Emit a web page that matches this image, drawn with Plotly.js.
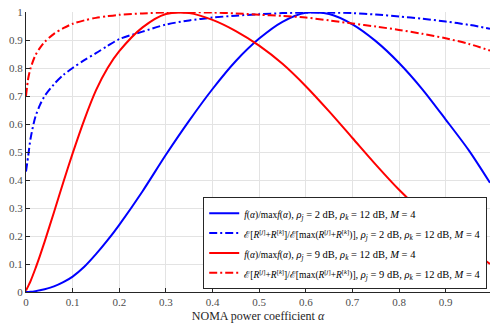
<!DOCTYPE html>
<html>
<head>
<meta charset="utf-8">
<script src="https://cdn.plot.ly/plotly-3.0.1.min.js"></script>
<style>html,body{margin:0;padding:0;background:#fff;}#chart{width:491px;height:325px;}</style>
</head>
<body>
<div id="chart"></div>
<script>
// NOMA power coefficient alpha (x values)
const alpha = [0, 0.005, 0.01, 0.02, 0.03, 0.04, 0.06, 0.08, 0.1, 0.125, 0.15, 0.175, 0.2, 0.25, 0.3, 0.35, 0.4, 0.45, 0.5, 0.55, 0.6, 0.65, 0.7, 0.75, 0.8, 0.85, 0.9, 0.95, 0.995];

// f(alpha)/max f(alpha), rho_j = 2 dB
const fRatioRho2 = [0, 0.0002, 0.0008, 0.003, 0.006, 0.01, 0.02, 0.035, 0.055, 0.09, 0.135, 0.185, 0.24, 0.36, 0.49, 0.612, 0.725, 0.825, 0.905, 0.965, 0.997, 0.993, 0.956, 0.896, 0.818, 0.724, 0.616, 0.505, 0.39];
// E[R^j+R^k]/E[max(R^j+R^k)], rho_j = 2 dB
const eRatioRho2 = [0.43, 0.49, 0.55, 0.625, 0.668, 0.70, 0.742, 0.775, 0.80, 0.828, 0.853, 0.879, 0.903, 0.93, 0.955, 0.97, 0.98, 0.987, 0.992, 0.996, 0.998, 0.998, 0.996, 0.991, 0.984, 0.976, 0.966, 0.954, 0.94];
// f(alpha)/max f(alpha), rho_j = 9 dB
const fRatioRho9 = [0.005, 0.022, 0.04, 0.083, 0.13, 0.18, 0.285, 0.392, 0.495, 0.615, 0.72, 0.80, 0.86, 0.945, 0.993, 0.996, 0.972, 0.932, 0.88, 0.815, 0.735, 0.645, 0.55, 0.455, 0.365, 0.285, 0.215, 0.155, 0.10];
// E[R^j+R^k]/E[max(R^j+R^k)], rho_j = 9 dB
const eRatioRho9 = [0.70, 0.765, 0.80, 0.845, 0.872, 0.893, 0.922, 0.942, 0.958, 0.97, 0.979, 0.985, 0.99, 0.995, 0.998, 0.999, 0.998, 0.995, 0.99, 0.986, 0.98, 0.97, 0.959, 0.948, 0.936, 0.922, 0.906, 0.886, 0.862];

const xTicks = [0, 0.1, 0.2, 0.3, 0.4, 0.5, 0.6, 0.7, 0.8, 0.9];
const yTicks = [0, 0.1, 0.2, 0.3, 0.4, 0.5, 0.6, 0.7, 0.8, 0.9, 1];

const FR = "<span style='font-size:9.5px'>";
const RS = "<span style='font-size:10.5px'>";
const rest2 = RS + ", <i>ρ</i><sub><i>j</i></sub> = 2 dB, <i>ρ</i><sub><i>k</i></sub> = 12 dB, <i>M</i> = 4</span>";
const rest9 = RS + ", <i>ρ</i><sub><i>j</i></sub> = 9 dB, <i>ρ</i><sub><i>k</i></sub> = 12 dB, <i>M</i> = 4</span>";
const fFrac = FR + "<i>f</i>(<i>α</i>)/max<i>f</i>(<i>α</i>)</span>";
const eFrac = FR + "ℰ[<i>R</i><sup>[<i>j</i>]</sup>+<i>R</i><sup>[<i>k</i>]</sup>]/ℰ[max(<i>R</i><sup>[<i>j</i>]</sup>+<i>R</i><sup>[<i>k</i>]</sup>)]</span>";
const names = [fFrac + rest2, eFrac + rest2, fFrac + rest9, eFrac + rest9];

const dd = "8px,3px,2px,3px";
const traces = [
  {x: alpha, y: fRatioRho2, name: names[0], line: {color: '#0000ff', width: 2, shape: 'spline', smoothing: 0.8}},
  {x: alpha, y: eRatioRho2, name: names[1], line: {color: '#0000ff', width: 2, dash: dd, shape: 'spline', smoothing: 0.8}},
  {x: alpha, y: fRatioRho9, name: names[2], line: {color: '#ff0000', width: 2, shape: 'spline', smoothing: 0.8}},
  {x: alpha, y: eRatioRho9, name: names[3], line: {color: '#ff0000', width: 2, dash: dd, shape: 'spline', smoothing: 0.8}}
].map(t => Object.assign({type: 'scatter', mode: 'lines', hoverinfo: 'skip'}, t));

const SERIF = 'Liberation Serif, DejaVu Serif, serif';
const axisFont = {family: SERIF, size: 11, color: '#4d4d4d'};
const layout = {
  width: 491, height: 325,
  margin: {l: 26, r: 1, t: 12, b: 33, pad: 0},
  paper_bgcolor: '#ffffff', plot_bgcolor: '#ffffff',
  font: {family: SERIF, size: 11, color: '#262626'},
  showlegend: true,
  xaxis: {
    range: [0, 0.995], tickvals: xTicks, ticktext: xTicks.map(String),
    ticks: 'inside', ticklen: 4, tickcolor: '#262626', tickwidth: 1,
    showline: true, linecolor: '#262626', linewidth: 1,
    showgrid: true, gridcolor: '#e3e3e3', gridwidth: 1, zeroline: false,
    tickfont: axisFont,
    title: {text: 'NOMA power coefficient <i>α</i>', font: {family: SERIF, size: 12, color: '#262626'}, standoff: 4}
  },
  yaxis: {
    range: [0, 1], tickvals: yTicks, ticktext: yTicks.map(String),
    ticks: 'inside', ticklen: 4, tickcolor: '#262626', tickwidth: 1,
    showline: true, linecolor: '#262626', linewidth: 1,
    showgrid: true, gridcolor: '#e3e3e3', gridwidth: 1, zeroline: false,
    tickfont: axisFont
  },
  legend: {
    x: 0.994, y: 0.01, xanchor: 'right', yanchor: 'bottom',
    bgcolor: '#ffffff', bordercolor: '#262626', borderwidth: 1,
    font: {family: SERIF, size: 13, color: '#000000'},
    tracegroupgap: 0, itemwidth: 30
  }
};

Plotly.newPlot('chart', traces, layout, {staticPlot: true, displayModeBar: false});
</script>
</body>
</html>
